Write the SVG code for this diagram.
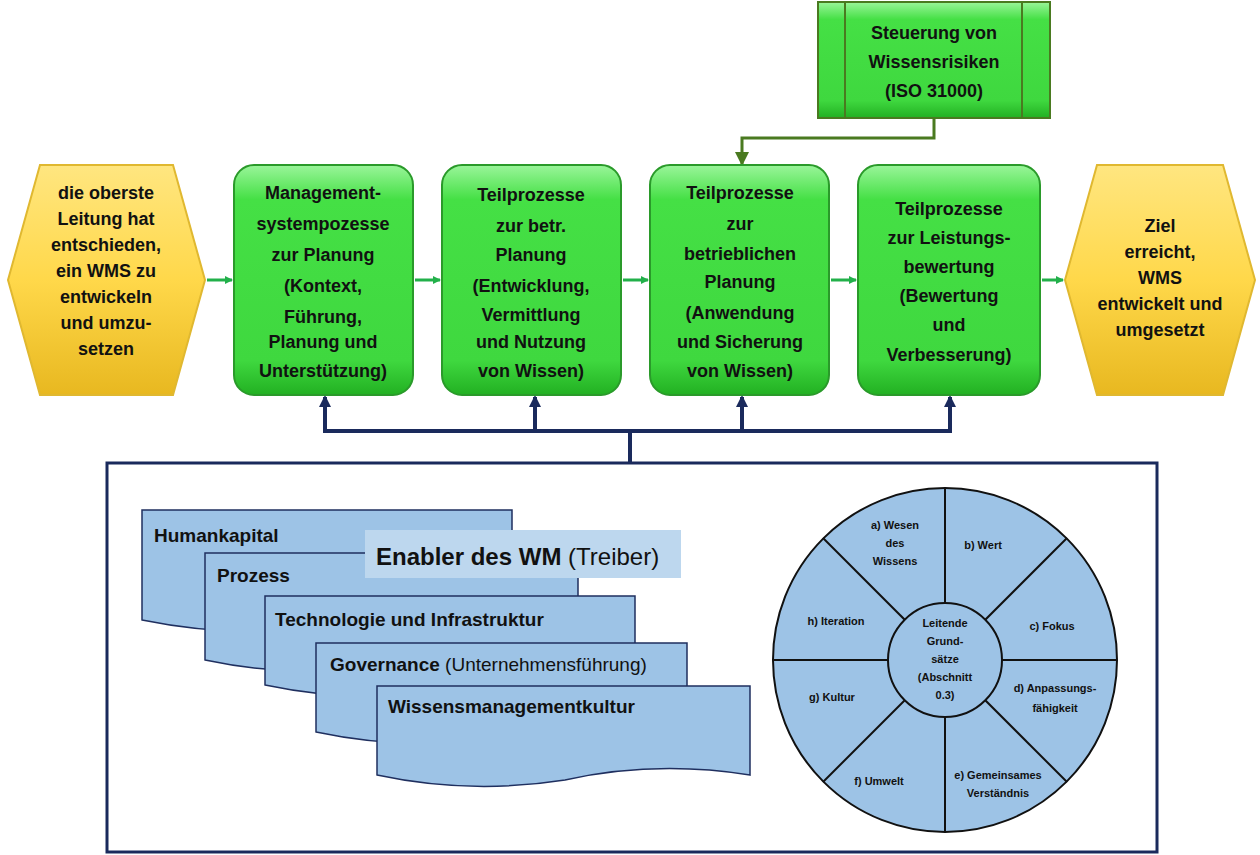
<svg xmlns="http://www.w3.org/2000/svg" width="1260" height="855" viewBox="0 0 1260 855">
<defs>
<linearGradient id="gg" x1="0" y1="0" x2="0" y2="1"><stop offset="0" stop-color="#9af59a"/><stop offset="0.15" stop-color="#45e045"/><stop offset="0.85" stop-color="#3fd83f"/><stop offset="1" stop-color="#22b022"/></linearGradient>
<linearGradient id="yg" x1="0" y1="0" x2="0" y2="1"><stop offset="0" stop-color="#ffe680"/><stop offset="0.5" stop-color="#ffd84a"/><stop offset="1" stop-color="#e8b820"/></linearGradient>
<marker id="ga" markerWidth="8" markerHeight="8" refX="7" refY="4" orient="auto" markerUnits="userSpaceOnUse"><path d="M0,0 L8,4 L0,8 Z" fill="#22b04a"/></marker>
<marker id="na" markerWidth="12" markerHeight="12" refX="10" refY="6" orient="auto" markerUnits="userSpaceOnUse"><path d="M0,0 L12,6 L0,12 Z" fill="#1a2a5c"/></marker>
<marker id="oa" markerWidth="14" markerHeight="14" refX="12" refY="7" orient="auto" markerUnits="userSpaceOnUse"><path d="M0,0 L14,7 L0,14 Z" fill="#4a7a20"/></marker>
</defs>
<style>
.t{font-family:"Liberation Sans",Arial,sans-serif;font-weight:bold;fill:#111;text-anchor:middle}
.gb{fill:url(#gg);stroke:#2a9a2a;stroke-width:2}
.hx{fill:url(#yg);stroke:#e0b830;stroke-width:2}
.doc{fill:#9dc3e6;stroke:#1f2f5f;stroke-width:1.5}
.dt{font-family:"Liberation Sans",Arial,sans-serif;font-weight:bold;font-size:19px;fill:#111}
.w{fill:#9dc3e6;stroke:#111;stroke-width:2}
.wt{font-family:"Liberation Sans",Arial,sans-serif;font-weight:bold;font-size:11px;fill:#111;text-anchor:middle}
</style>
<rect width="1260" height="855" fill="#fff"/>
<g id="connectors" fill="none">
<line x1="207" y1="280" x2="232" y2="280" stroke="#22b04a" stroke-width="3" marker-end="url(#ga)"/>
<line x1="415" y1="280" x2="440" y2="280" stroke="#22b04a" stroke-width="3" marker-end="url(#ga)"/>
<line x1="623" y1="280" x2="648" y2="280" stroke="#22b04a" stroke-width="3" marker-end="url(#ga)"/>
<line x1="831" y1="280" x2="856" y2="280" stroke="#22b04a" stroke-width="3" marker-end="url(#ga)"/>
<line x1="1042" y1="280" x2="1063" y2="280" stroke="#22b04a" stroke-width="3" marker-end="url(#ga)"/>
<polyline points="934,118 934,138 742,138 742,164" stroke="#4a7a20" stroke-width="3" marker-end="url(#oa)"/>
<g stroke="#1a2a5c" stroke-width="4">
<line x1="630" y1="462" x2="630" y2="431"/>
<line x1="323" y1="431" x2="952" y2="431"/>
<line x1="325" y1="431" x2="325" y2="397" marker-end="url(#na)"/>
<line x1="535" y1="431" x2="535" y2="397" marker-end="url(#na)"/>
<line x1="742" y1="431" x2="742" y2="397" marker-end="url(#na)"/>
<line x1="950" y1="431" x2="950" y2="397" marker-end="url(#na)"/>
</g>
</g>
<g id="hex-left"><polygon class="hx" points="8,280 40,165 173,165 205,280 173,395 40,395"/>
<text class="t" font-size="18"><tspan x="106" y="199">die oberste</tspan><tspan x="106" y="225">Leitung hat</tspan><tspan x="106" y="251">entschieden,</tspan><tspan x="106" y="277">ein WMS zu</tspan><tspan x="106" y="303">entwickeln</tspan><tspan x="106" y="329">und umzu-</tspan><tspan x="106" y="355">setzen</tspan></text></g>
<g id="hex-right"><polygon class="hx" points="1065,280 1097,165 1223,165 1255,280 1223,395 1097,395"/>
<text class="t" font-size="18"><tspan x="1160" y="232">Ziel</tspan><tspan x="1160" y="258">erreicht,</tspan><tspan x="1160" y="284">WMS</tspan><tspan x="1160" y="310">entwickelt und</tspan><tspan x="1160" y="336">umgesetzt</tspan></text></g>
<g id="n1"><rect class="gb" x="234" y="165" width="179" height="230" rx="20"/>
<text class="t" font-size="18"><tspan x="323" y="199">Management-</tspan><tspan x="323" y="230">systempozesse</tspan><tspan x="323" y="261">zur Planung</tspan><tspan x="323" y="292">(Kontext,</tspan><tspan x="323" y="323">Führung,</tspan><tspan x="323" y="348">Planung und</tspan><tspan x="323" y="377">Unterstützung)</tspan></text></g>
<g id="n2"><rect class="gb" x="442" y="165" width="179" height="230" rx="20"/>
<text class="t" font-size="18"><tspan x="531" y="201">Teilprozesse</tspan><tspan x="531" y="232">zur betr.</tspan><tspan x="531" y="261">Planung</tspan><tspan x="531" y="292">(Entwicklung,</tspan><tspan x="531" y="321">Vermittlung</tspan><tspan x="531" y="348">und Nutzung</tspan><tspan x="531" y="377">von Wissen)</tspan></text></g>
<g id="n3"><rect class="gb" x="650" y="165" width="179" height="230" rx="20"/>
<text class="t" font-size="18"><tspan x="740" y="199">Teilprozesse</tspan><tspan x="740" y="230">zur</tspan><tspan x="740" y="260">betrieblichen</tspan><tspan x="740" y="288">Planung</tspan><tspan x="740" y="319">(Anwendung</tspan><tspan x="740" y="348">und Sicherung</tspan><tspan x="740" y="377">von Wissen)</tspan></text></g>
<g id="n4"><rect class="gb" x="858" y="165" width="182" height="230" rx="20"/>
<text class="t" font-size="18"><tspan x="949" y="215">Teilprozesse</tspan><tspan x="949" y="244">zur Leistungs-</tspan><tspan x="949" y="273">bewertung</tspan><tspan x="949" y="302">(Bewertung</tspan><tspan x="949" y="331">und</tspan><tspan x="949" y="361">Verbesserung)</tspan></text></g>
<g id="risk"><rect x="818" y="2" width="232" height="116" fill="url(#gg)" stroke="#4a7a20" stroke-width="2"/>
<line x1="845" y1="2" x2="845" y2="118" stroke="#4a7a20" stroke-width="2"/><line x1="1022" y1="2" x2="1022" y2="118" stroke="#4a7a20" stroke-width="2"/>
<text class="t" font-size="18"><tspan x="934" y="39">Steuerung von</tspan><tspan x="934" y="68">Wissensrisiken</tspan><tspan x="934" y="97">(ISO 31000)</tspan></text></g>
<g id="frame"><rect x="107" y="463" width="1050" height="389" fill="none" stroke="#1a2a5c" stroke-width="3"/></g>
<g id="enablers">
<path class="doc" d="M142,510 H512 V620 Q420,605 330,625 Q240,640 142,620 Z"/>
<text class="dt" x="154" y="542">Humankapital</text>
<path class="doc" d="M205,553 H578 V660 Q480,645 390,665 Q300,680 205,660 Z"/>
<text class="dt" x="217" y="582">Prozess</text>
<path class="doc" d="M265,596 H635 V685 Q540,670 450,690 Q360,705 265,685 Z"/>
<text class="dt" x="275" y="626">Technologie und Infrastruktur</text>
<path class="doc" d="M316,643 H687 V732 Q590,717 500,737 Q410,752 316,732 Z"/>
<text class="dt" x="330" y="671">Governance <tspan font-weight="normal">(Unternehmensführung)</tspan></text>
<path class="doc" d="M377,686 H750 V775 Q655,760 565,780 Q470,795 377,775 Z"/>
<text class="dt" x="388" y="713">Wissensmanagementkultur</text>
<rect x="365" y="530" width="316" height="48" fill="#bdd7ee"/>
<text x="376" y="565" font-family="Liberation Sans,Arial,sans-serif" font-size="24" font-weight="bold" fill="#111">Enabler des WM <tspan font-weight="normal">(Treiber)</tspan></text>
</g>
<g id="wheel">
<circle class="w" cx="945" cy="660" r="172"/>
<g stroke="#111" stroke-width="2">
<line x1="945" y1="488" x2="945" y2="832"/><line x1="773" y1="660" x2="1117" y2="660"/>
<line x1="823" y1="538" x2="1067" y2="782"/><line x1="1067" y1="538" x2="823" y2="782"/>
</g>
<circle class="w" cx="945" cy="660" r="57"/>
<text class="wt"><tspan x="945" y="627">Leitende</tspan><tspan x="945" y="645">Grund-</tspan><tspan x="945" y="663">sätze</tspan><tspan x="945" y="681">(Abschnitt</tspan><tspan x="945" y="699">0.3)</tspan></text>
<text class="wt"><tspan x="895" y="529">a) Wesen</tspan><tspan x="895" y="547">des</tspan><tspan x="895" y="565">Wissens</tspan></text>
<text class="wt" x="983" y="549">b) Wert</text>
<text class="wt" x="1052" y="630">c) Fokus</text>
<text class="wt"><tspan x="1055" y="692">d) Anpassungs-</tspan><tspan x="1055" y="712">fähigkeit</tspan></text>
<text class="wt"><tspan x="998" y="779">e) Gemeinsames</tspan><tspan x="998" y="797">Verständnis</tspan></text>
<text class="wt" x="879" y="785">f)  Umwelt</text>
<text class="wt" x="832" y="701">g) Kultur</text>
<text class="wt" x="836" y="625">h) Iteration</text>
</g>
</svg>
